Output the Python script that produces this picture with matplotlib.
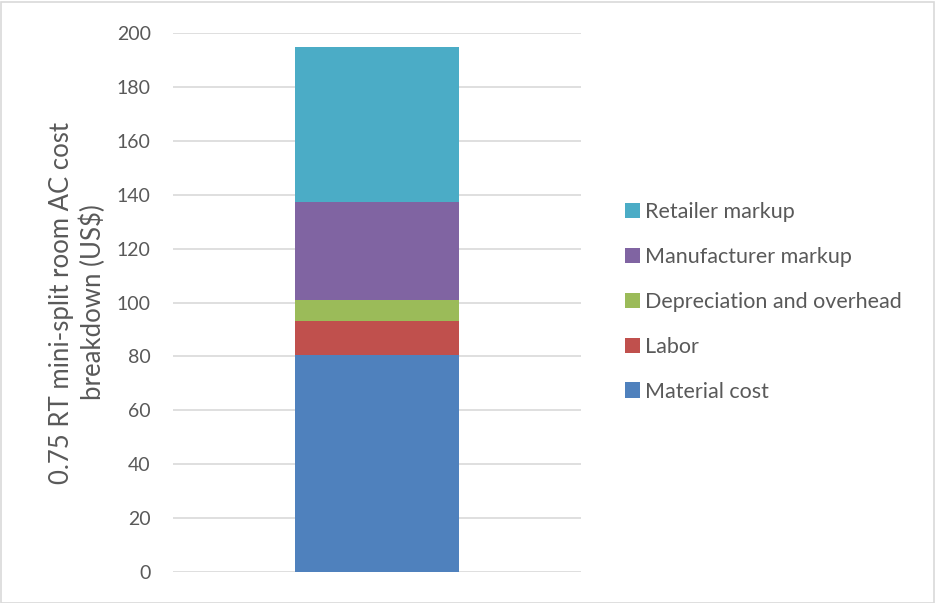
import matplotlib.pyplot as plt
from matplotlib.patches import Rectangle

plt.rcParams['font.family'] = ['Lato', 'DejaVu Sans']

components = ['Material cost', 'Labor', 'Depreciation and overhead',
              'Manufacturer markup', 'Retailer markup']
costs = [80.6, 12.6, 7.8, 36.2, 57.6]
colors = ['#4F81BD', '#C0504D', '#9BBB59', '#8064A2', '#4BACC6']

fig = plt.figure(figsize=(9.35, 6.03), dpi=100)
ax = fig.add_axes([173/935, 1 - 572/603, 408/935, 539/603])

bottom = 0
for name, val, c in zip(components, costs, colors):
    ax.bar(0, val, width=0.4, bottom=bottom, color=c, label=name, zorder=2)
    bottom += val

ax.set_xlim(-0.5, 0.5)
ax.set_ylim(0, 200)
ax.set_yticks(range(0, 201, 20))
ax.set_xticks([])
ax.grid(axis='y', color='#d9d9d9', linewidth=1.2, zorder=0)
for s in ax.spines.values():
    s.set_visible(False)
ax.tick_params(axis='y', length=0, pad=16, labelsize=14, labelcolor='#595959')
ax.set_ylabel('0.75 RT mini-split room AC cost\nbreakdown (US$)', fontsize=18.5,
              color='#595959', labelpad=8, linespacing=1.25)

h, l = ax.get_legend_handles_labels()
leg = fig.legend(h[::-1], l[::-1], loc='center left', bbox_to_anchor=(606/935, 1 - 302/603),
                 frameon=False, fontsize=15.5, labelcolor='#595959', handlelength=0.7,
                 handleheight=0.7, handletextpad=0.2, labelspacing=1.15)

fig.patches.append(Rectangle((0.5/935, 0.5/603), 1 - 2/935, 1 - 2/603, transform=fig.transFigure,
                             fill=False, edgecolor='#d9d9d9', linewidth=1.2))

fig.savefig('out.png', dpi=100)
